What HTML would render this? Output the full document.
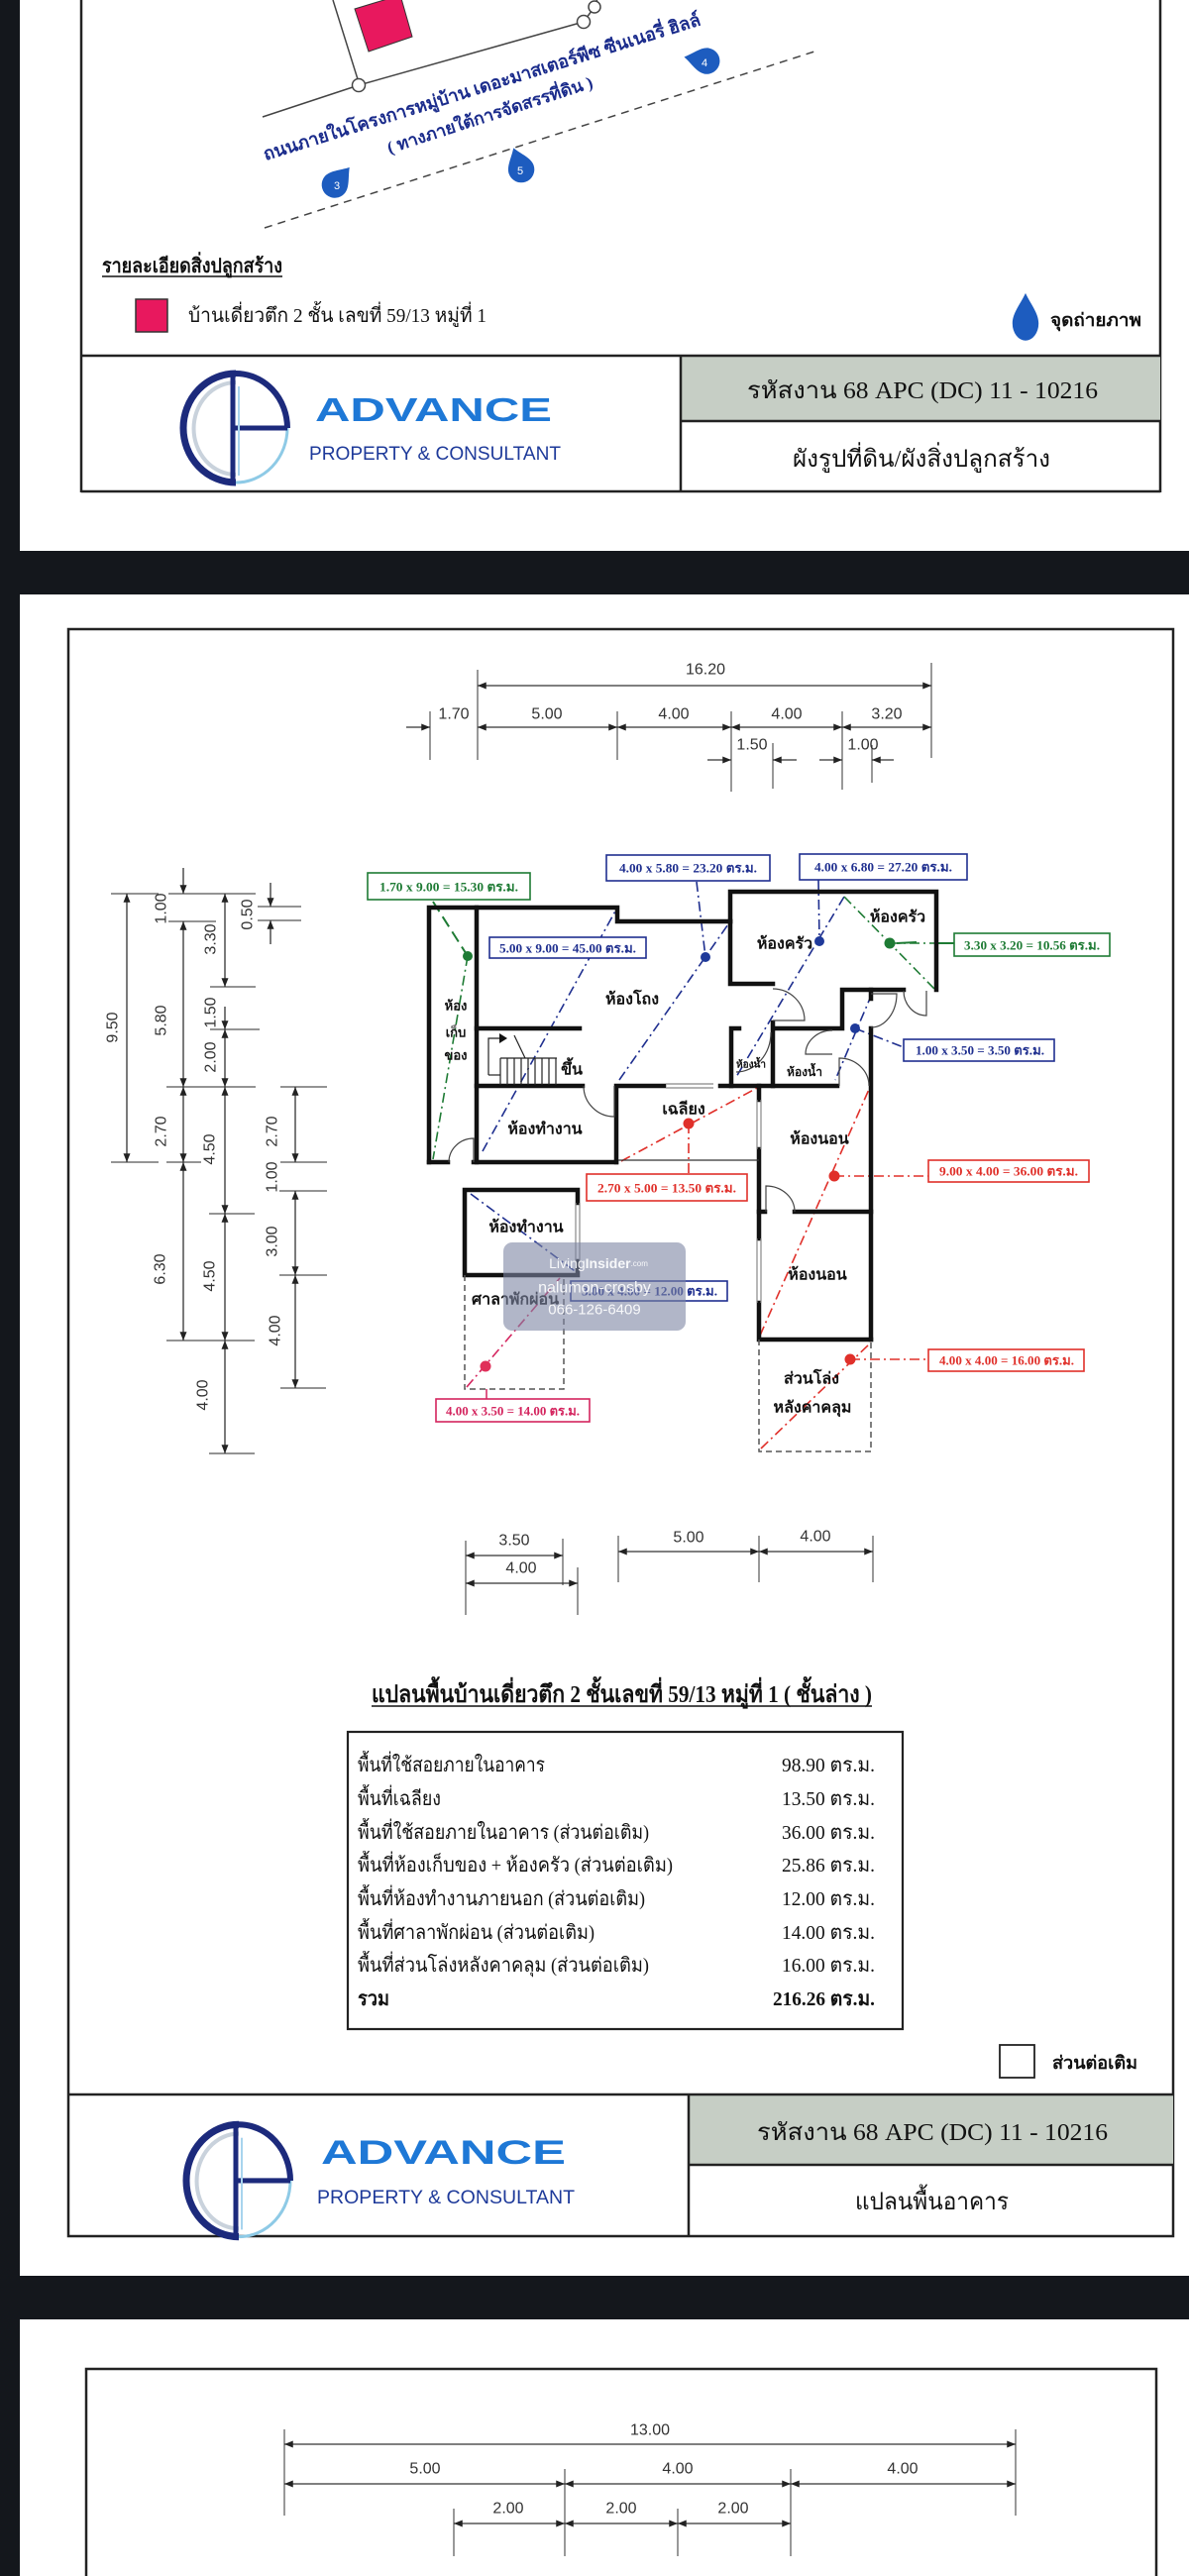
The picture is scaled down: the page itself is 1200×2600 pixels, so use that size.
<!DOCTYPE html>
<html><head><meta charset="utf-8"><style>
html,body{margin:0;padding:0;background:#14171c;}
body{width:1200px;height:2600px;overflow:hidden;}
svg{display:block;}
.th{font-family:"Liberation Serif","DejaVu Serif","Noto Serif CJK SC",serif;}
.dm{font-family:"Liberation Sans","DejaVu Sans",sans-serif;font-size:16px;fill:#333;}
.lb{font-family:"Liberation Serif","DejaVu Serif",serif;font-size:13px;font-weight:bold;}
.rm{font-family:"Liberation Serif","DejaVu Serif",serif;font-size:16px;font-weight:bold;fill:#111;}
</style></head><body>
<svg width="1200" height="2600" viewBox="0 0 1200 2600" xmlns="http://www.w3.org/2000/svg">
<defs>
<marker id="ar" viewBox="0 0 10 8" refX="10" refY="4" markerWidth="10" markerHeight="7" markerUnits="userSpaceOnUse" orient="auto-start-reverse"><path d="M0,0L10,4L0,8z" fill="#222"/></marker>
<g id="logo">
<path d="M238,377 A53,55 0 0 0 238,487" fill="none" stroke="#1c2a7c" stroke-width="7"/>
<path d="M238,386 A42,46 0 0 0 238,479" fill="none" stroke="#c9d2dc" stroke-width="4"/>
<path d="M238,377 A52,55 0 0 1 290,432" fill="none" stroke="#1c2a7c" stroke-width="6"/>
<path d="M290,432 A52,55 0 0 1 238,487" fill="none" stroke="#8ecae6" stroke-width="3"/>
<line x1="235" y1="378" x2="235" y2="487" stroke="#1c2a7c" stroke-width="5"/>
<line x1="235" y1="432" x2="290" y2="432" stroke="#1c2a7c" stroke-width="5"/>
<line x1="241" y1="390" x2="241" y2="480" stroke="#a8d4ee" stroke-width="2"/>
</g>
<g id="drop"><path d="M0,-18 C5,-10 12,-4 12,3 A12,12 0 1 1 -12,3 C-12,-4 -5,-10 0,-18z" fill="#1d5cbf"/></g>
</defs>

<!-- pages -->
<rect x="20" y="0" width="1180" height="556" fill="#fff"/>
<rect x="20" y="600" width="1180" height="1697" fill="#fff"/>
<rect x="20" y="2341" width="1180" height="259" fill="#fff"/>

<!-- ================= PAGE 1 ================= -->
<line x1="82" y1="0" x2="82" y2="497" stroke="#222" stroke-width="2.5"/>
<line x1="1171" y1="0" x2="1171" y2="497" stroke="#222" stroke-width="2.5"/>
<rect x="687" y="359" width="484" height="66" fill="#c6cec5"/>
<line x1="82" y1="359" x2="1171" y2="359" stroke="#222" stroke-width="2.5"/>
<line x1="687" y1="425" x2="1171" y2="425" stroke="#222" stroke-width="2.5"/>
<line x1="687" y1="359" x2="687" y2="496" stroke="#222" stroke-width="2.5"/>
<line x1="82" y1="496" x2="1171" y2="496" stroke="#222" stroke-width="2.5"/>

<!-- site drawing -->
<polygon points="372,52 416,37 404,-5 358,9" fill="#e8185e" stroke="#333" stroke-width="1"/>
<line x1="336" y1="0" x2="361" y2="80" stroke="#444" stroke-width="1.5"/>
<polyline points="265,118 362,86 589,22" fill="none" stroke="#444" stroke-width="1.5"/>
<line x1="589" y1="22" x2="600" y2="7" stroke="#444" stroke-width="1.5"/>
<line x1="600" y1="7" x2="604" y2="-4" stroke="#444" stroke-width="1.5"/>
<circle cx="362" cy="86" r="6.5" fill="#fff" stroke="#444" stroke-width="1.5"/>
<circle cx="589" cy="22" r="6.5" fill="#fff" stroke="#444" stroke-width="1.5"/>
<circle cx="600" cy="7" r="6" fill="#fff" stroke="#444" stroke-width="1.5"/>
<line x1="267" y1="230" x2="822" y2="52" stroke="#444" stroke-width="1.5" stroke-dasharray="8 6"/>
<text class="th" x="268" y="162" transform="rotate(-17.3 268 162)" font-size="18" font-weight="bold" fill="#1b2c8c" textLength="461" lengthAdjust="spacingAndGlyphs">ถนนภายในโครงการหมู่บ้าน เดอะมาสเตอร์พีซ ซีนเนอรี่ ฮิลล์</text>
<text class="th" x="393" y="155" transform="rotate(-18 393 155)" font-size="17" font-weight="bold" fill="#1b2c8c" textLength="217" lengthAdjust="spacingAndGlyphs">( ทางภายใต้การจัดสรรที่ดิน )</text>
<g transform="translate(340,184) rotate(40) scale(1.1)"><use href="#drop"/></g><text x="340" y="191" font-family="Liberation Sans" font-size="11" fill="#fff" text-anchor="middle">3</text>
<g transform="translate(525,168) rotate(-20) scale(1.1)"><use href="#drop"/></g><text x="525" y="176" font-family="Liberation Sans" font-size="11" fill="#fff" text-anchor="middle">5</text>
<g transform="translate(710,61) rotate(-80) scale(1.1)"><use href="#drop"/></g><text x="711" y="67" font-family="Liberation Sans" font-size="11" fill="#fff" text-anchor="middle">4</text>

<!-- legend -->
<text class="th" x="103" y="275" font-size="20" font-weight="bold" fill="#111" textLength="182" lengthAdjust="spacingAndGlyphs">รายละเอียดสิ่งปลูกสร้าง</text>
<line x1="103" y1="279" x2="285" y2="279" stroke="#111" stroke-width="1.5"/>
<rect x="137" y="302" width="32" height="33" fill="#e8185e" stroke="#333" stroke-width="1.5"/>
<text class="th" x="190" y="325" font-size="20" fill="#111" textLength="301" lengthAdjust="spacingAndGlyphs">บ้านเดี่ยวตึก 2 ชั้น เลขที่ 59/13 หมู่ที่ 1</text>
<g transform="translate(1035,322) scale(1.1,1.45)"><use href="#drop"/></g>
<text class="th" x="1060" y="329" font-size="18" font-weight="bold" fill="#111" textLength="92" lengthAdjust="spacingAndGlyphs">จุดถ่ายภาพ</text>

<!-- title block 1 -->
<use href="#logo"/>
<text x="318" y="425" font-family="Liberation Sans" font-weight="bold" font-size="33" fill="#1e78d6" textLength="239" lengthAdjust="spacingAndGlyphs">ADVANCE</text>
<text x="312" y="464" font-family="Liberation Sans" font-size="19" fill="#1e3a9a" textLength="254" lengthAdjust="spacingAndGlyphs">PROPERTY &amp; CONSULTANT</text>
<text class="th" x="754" y="402" font-size="24" fill="#111" textLength="354" lengthAdjust="spacingAndGlyphs">รหัสงาน   68 APC (DC) 11 - 10216</text>
<text class="th" x="800" y="471" font-size="24" fill="#111" textLength="260" lengthAdjust="spacingAndGlyphs">ผังรูปที่ดิน/ผังสิ่งปลูกสร้าง</text>

<!-- ================= PAGE 2 ================= -->
<rect x="69" y="635" width="1115" height="1622" fill="none" stroke="#222" stroke-width="2.5"/>

<!-- top dims -->
<g stroke="#555" stroke-width="1.2">
<line x1="482" y1="676" x2="482" y2="767"/>
<line x1="940" y1="669" x2="940" y2="765"/>
<line x1="434" y1="718" x2="434" y2="767"/>
<line x1="623" y1="718" x2="623" y2="767"/>
<line x1="738" y1="718" x2="738" y2="799"/>
<line x1="850" y1="718" x2="850" y2="797"/>
<line x1="780" y1="750" x2="780" y2="796"/>
<line x1="880" y1="752" x2="880" y2="790"/>
</g>
<g stroke="#333" stroke-width="1.3">
<line x1="482" y1="692" x2="940" y2="692" marker-start="url(#ar)" marker-end="url(#ar)"/>
<line x1="482" y1="734" x2="623" y2="734" marker-start="url(#ar)" marker-end="url(#ar)"/>
<line x1="623" y1="734" x2="738" y2="734" marker-start="url(#ar)" marker-end="url(#ar)"/>
<line x1="738" y1="734" x2="850" y2="734" marker-start="url(#ar)" marker-end="url(#ar)"/>
<line x1="850" y1="734" x2="940" y2="734" marker-start="url(#ar)" marker-end="url(#ar)"/>
<line x1="410" y1="734" x2="434" y2="734" marker-end="url(#ar)"/>
<line x1="714" y1="767" x2="738" y2="767" marker-end="url(#ar)"/>
<line x1="804" y1="767" x2="780" y2="767" marker-end="url(#ar)"/>
<line x1="827" y1="767" x2="850" y2="767" marker-end="url(#ar)"/>
<line x1="902" y1="767" x2="880" y2="767" marker-end="url(#ar)"/>
</g>
<g class="dm" text-anchor="middle" dominant-baseline="central">
<text x="712" y="676">16.20</text>
<text x="458" y="721">1.70</text>
<text x="552" y="721">5.00</text>
<text x="680" y="721">4.00</text>
<text x="794" y="721">4.00</text>
<text x="895" y="721">3.20</text>
<text x="759" y="752">1.50</text>
<text x="871" y="752">1.00</text>
</g>

<!-- left dims -->
<g stroke="#555" stroke-width="1.2">
<line x1="112" y1="902" x2="160" y2="902"/><line x1="170" y1="902" x2="258" y2="902"/>
<line x1="170" y1="930" x2="218" y2="930"/>
<line x1="212" y1="996" x2="258" y2="996"/>
<line x1="212" y1="1039" x2="262" y2="1039"/>
<line x1="168" y1="1097" x2="258" y2="1097"/><line x1="283" y1="1097" x2="330" y2="1097"/>
<line x1="112" y1="1173" x2="160" y2="1173"/><line x1="168" y1="1173" x2="203" y2="1173"/><line x1="283" y1="1173" x2="330" y2="1173"/>
<line x1="282" y1="1202" x2="330" y2="1202"/>
<line x1="211" y1="1225" x2="257" y2="1225"/>
<line x1="282" y1="1287" x2="330" y2="1287"/>
<line x1="168" y1="1353" x2="257" y2="1353"/>
<line x1="283" y1="1401" x2="329" y2="1401"/>
<line x1="211" y1="1467" x2="257" y2="1467"/>
<line x1="260" y1="915" x2="304" y2="915"/><line x1="260" y1="929" x2="304" y2="929"/>
</g>
<g stroke="#333" stroke-width="1.3">
<line x1="128" y1="902" x2="128" y2="1173" marker-start="url(#ar)" marker-end="url(#ar)"/>
<line x1="185" y1="876" x2="185" y2="902" marker-end="url(#ar)"/>
<line x1="185" y1="930" x2="185" y2="1097" marker-start="url(#ar)" marker-end="url(#ar)"/>
<line x1="185" y1="1097" x2="185" y2="1173" marker-start="url(#ar)" marker-end="url(#ar)"/>
<line x1="185" y1="1173" x2="185" y2="1353" marker-start="url(#ar)" marker-end="url(#ar)"/>
<line x1="227" y1="902" x2="227" y2="996" marker-start="url(#ar)" marker-end="url(#ar)"/>
<line x1="227" y1="1016" x2="227" y2="1039" marker-end="url(#ar)"/>
<line x1="227" y1="1039" x2="227" y2="1097" marker-start="url(#ar)" marker-end="url(#ar)"/>
<line x1="227" y1="1097" x2="227" y2="1225" marker-start="url(#ar)" marker-end="url(#ar)"/>
<line x1="227" y1="1225" x2="227" y2="1353" marker-start="url(#ar)" marker-end="url(#ar)"/>
<line x1="227" y1="1353" x2="227" y2="1467" marker-start="url(#ar)" marker-end="url(#ar)"/>
<line x1="273" y1="891" x2="273" y2="915" marker-end="url(#ar)"/>
<line x1="273" y1="953" x2="273" y2="929" marker-end="url(#ar)"/>
<line x1="298" y1="1097" x2="298" y2="1173" marker-start="url(#ar)" marker-end="url(#ar)"/>
<line x1="298" y1="1202" x2="298" y2="1287" marker-start="url(#ar)" marker-end="url(#ar)"/>
<line x1="298" y1="1287" x2="298" y2="1401" marker-start="url(#ar)" marker-end="url(#ar)"/>
</g>
<g class="dm" text-anchor="middle" dominant-baseline="central">
<text transform="translate(114,1037) rotate(-90)">9.50</text>
<text transform="translate(163,917) rotate(-90)">1.00</text>
<text transform="translate(163,1030) rotate(-90)">5.80</text>
<text transform="translate(163,1142) rotate(-90)">2.70</text>
<text transform="translate(162,1281) rotate(-90)">6.30</text>
<text transform="translate(213,948) rotate(-90)">3.30</text>
<text transform="translate(213,1022) rotate(-90)">1.50</text>
<text transform="translate(213,1067) rotate(-90)">2.00</text>
<text transform="translate(212,1160) rotate(-90)">4.50</text>
<text transform="translate(212,1288) rotate(-90)">4.50</text>
<text transform="translate(205,1408) rotate(-90)">4.00</text>
<text transform="translate(250,923) rotate(-90)">0.50</text>
<text transform="translate(275,1142) rotate(-90)">2.70</text>
<text transform="translate(275,1188) rotate(-90)">1.00</text>
<text transform="translate(275,1253) rotate(-90)">3.00</text>
<text transform="translate(278,1343) rotate(-90)">4.00</text>
</g>

<!-- plan colored dash lines (under walls) -->
<g fill="none" stroke-width="1.6" stroke-dasharray="10 4 2 4">
<line x1="472" y1="965" x2="437" y2="1170" stroke="#1e7b34"/>
<line x1="487" y1="1162" x2="623" y2="916" stroke="#1f2f8f"/>
<line x1="625" y1="1090" x2="737" y2="930" stroke="#1f2f8f"/>
<line x1="703" y1="890" x2="712" y2="966" stroke="#1f2f8f"/>
<line x1="852" y1="905" x2="743" y2="1087" stroke="#1f2f8f"/>
<line x1="826" y1="888" x2="827" y2="950" stroke="#1f2f8f"/>
<line x1="852" y1="905" x2="943" y2="998" stroke="#1e7b34"/>
<line x1="898" y1="952" x2="963" y2="952" stroke="#1e7b34"/>
<line x1="880" y1="1003" x2="843" y2="1090" stroke="#1f2f8f"/>
<line x1="863" y1="1038" x2="912" y2="1057" stroke="#1f2f8f"/>
<line x1="627" y1="1172" x2="766" y2="1097" stroke="#e0302a"/>
<line x1="695" y1="1134" x2="695" y2="1185" stroke="#e0302a"/>
<line x1="767" y1="1348" x2="879" y2="1095" stroke="#e0302a"/>
<line x1="842" y1="1187" x2="937" y2="1187" stroke="#e0302a"/>
<line x1="768" y1="1462" x2="879" y2="1355" stroke="#e0302a"/>
<line x1="858" y1="1372" x2="937" y2="1372" stroke="#e0302a"/>
<line x1="471" y1="1400" x2="565" y2="1290" stroke="#d4245e"/>
<line x1="475" y1="1205" x2="583" y2="1285" stroke="#1f2f8f"/>
</g>
<line x1="437" y1="910" x2="472" y2="965" stroke="#1e7b34" stroke-width="2" stroke-dasharray="12 6"/>
<line x1="491" y1="1402" x2="491" y2="1412" stroke="#d4245e" stroke-width="1.5"/>
<line x1="905" y1="952" x2="925" y2="951" stroke="#1e7b34" stroke-width="2"/>
<line x1="945" y1="952" x2="963" y2="952" stroke="#1e7b34" stroke-width="2"/>

<!-- walls -->
<g fill="none" stroke="#111" stroke-width="4.5" stroke-linecap="square">
<path d="M433,1173 L433,916 L623,916 L623,930 L737,930"/>
<path d="M481,916 L481,1173"/>
<path d="M433,1173 L452,1173 M478,1173 L622,1173"/>
<path d="M481,1038 L585,1038"/>
<path d="M481,1096 L588,1096"/>
<path d="M622,1096 L622,1173 M622,1096 L670,1096 M727,1096 L845,1096"/>
<path d="M737,930 L737,900 L945,900 L945,999"/>
<path d="M737,930 L737,993 L780,993"/>
<path d="M850,999 L912,999 M850,999 L850,1038 L780,1038 M780,1032 L780,1096 M738,1038 L738,1096 M738,1038 L746,1038"/>
<path d="M879,999 L879,1008 M879,1038 L879,1352"/>
<path d="M766,1096 L766,1110 M766,1160 L766,1250 M766,1315 L766,1352 L879,1352"/>
<path d="M766,1223 L772,1223 M802,1223 L879,1223"/>
<path d="M583,1214 L583,1201 L469,1201 L469,1287 L583,1287 L583,1273"/>
</g>
<g fill="none" stroke="#888" stroke-width="1.2">
<path d="M672,1094 L720,1094 M672,1098 L720,1098"/>
<path d="M764,1110 L764,1160 M768,1110 L768,1160 M764,1250 L764,1315 M768,1250 L768,1315"/>
<path d="M581,1214 L581,1273 M585,1214 L585,1273"/>
</g>
<line x1="624" y1="1171" x2="766" y2="1171" stroke="#333" stroke-width="1.3"/>
<g fill="none" stroke="#555" stroke-width="1.5" stroke-dasharray="6 4">
<path d="M469,1287 L469,1402 L569,1402 L569,1287"/>
<path d="M766,1352 L766,1465 L879,1465 L879,1352"/>
</g>
<!-- doors -->
<g fill="none" stroke="#444" stroke-width="1.2">
<path d="M478,1173 L478,1149 A25,24 0 0 0 453,1173"/>
<path d="M589,1096 A31,31 0 0 0 620,1127 L620,1096"/>
<path d="M780,998 A32,32 0 0 1 812,1030 L780,1030"/>
<path d="M912,1000 A23,25 0 0 0 935,1025 L935,1000"/>
<path d="M879,1003 L905,1003 A26,34 0 0 1 879,1037"/>
<path d="M840,1040 A27,24 0 0 0 813,1064 L840,1064"/>
<path d="M847,1096 L847,1068 A30,28 0 0 1 877,1096"/>
<path d="M778,1042 A35,40 0 0 1 743,1082"/>
<path d="M773,1223 L773,1197 A29,26 0 0 1 802,1223"/>
</g>
<!-- stairs -->
<g fill="none" stroke="#222" stroke-width="1.2">
<path d="M493,1085 L493,1048 L505,1048"/>
<path d="M505,1068 L562,1068"/>
<path d="M505,1068 L505,1095 M512,1068 L512,1095 M519,1068 L519,1095 M526,1068 L526,1095 M533,1068 L533,1095 M540,1068 L540,1095 M547,1068 L547,1095 M554,1068 L554,1095 M561,1068 L561,1095"/>
<path d="M493,1085 L505,1085"/>
<path d="M519,1045 L530,1068"/>
</g>
<path d="M504,1043 L512,1048 L504,1053z" fill="#111"/>

<!-- dots -->
<circle cx="472" cy="965" r="5" fill="#1e7b34"/>
<circle cx="712" cy="966" r="5" fill="#1f3a9a"/>
<circle cx="827" cy="950" r="5" fill="#1f3a9a"/>
<circle cx="898" cy="952" r="5.5" fill="#1e7b34"/>
<circle cx="863" cy="1038" r="5" fill="#1f3a9a"/>
<circle cx="695" cy="1134" r="5.5" fill="#e0302a"/>
<circle cx="842" cy="1187" r="5.5" fill="#e0302a"/>
<circle cx="858" cy="1372" r="5.5" fill="#e0302a"/>
<circle cx="490" cy="1379" r="5.5" fill="#e0305a"/>

<!-- labels -->
<g fill="#fff" stroke-width="1.6">
<rect x="371" y="881" width="164" height="27" stroke="#1e7b34"/>
<rect x="494" y="946" width="158" height="21" stroke="#1f2f8f"/>
<rect x="612" y="863" width="165" height="26" stroke="#1f2f8f"/>
<rect x="807" y="862" width="169" height="26" stroke="#1f2f8f"/>
<rect x="963" y="942" width="157" height="23" stroke="#1e7b34"/>
<rect x="912" y="1049" width="152" height="22" stroke="#1f2f8f"/>
<rect x="937" y="1171" width="162" height="22" stroke="#e0302a"/>
<rect x="592" y="1185" width="162" height="27" stroke="#e0302a"/>
<rect x="576" y="1293" width="158" height="20" stroke="#1f2f8f"/>
<rect x="440" y="1412" width="155" height="23" stroke="#d4245e"/>
<rect x="937" y="1362" width="157" height="22" stroke="#e0302a"/>
</g>
<g class="lb" dominant-baseline="central">
<text x="383" y="895" fill="#1e7b34" textLength="140" lengthAdjust="spacingAndGlyphs">1.70 x 9.00 = 15.30 ตร.ม.</text>
<text x="504" y="957" fill="#1f2f8f" textLength="138" lengthAdjust="spacingAndGlyphs">5.00 x 9.00 = 45.00 ตร.ม.</text>
<text x="625" y="876" fill="#1f2f8f" textLength="139" lengthAdjust="spacingAndGlyphs">4.00 x 5.80 = 23.20 ตร.ม.</text>
<text x="822" y="875" fill="#1f2f8f" textLength="139" lengthAdjust="spacingAndGlyphs">4.00 x 6.80 = 27.20 ตร.ม.</text>
<text x="973" y="954" fill="#1e7b34" textLength="137" lengthAdjust="spacingAndGlyphs">3.30 x 3.20 = 10.56 ตร.ม.</text>
<text x="924" y="1060" fill="#1f2f8f" textLength="130" lengthAdjust="spacingAndGlyphs">1.00 x 3.50 = 3.50 ตร.ม.</text>
<text x="948" y="1182" fill="#e0302a" textLength="140" lengthAdjust="spacingAndGlyphs">9.00 x 4.00 = 36.00 ตร.ม.</text>
<text x="603" y="1199" fill="#e0302a" textLength="140" lengthAdjust="spacingAndGlyphs">2.70 x 5.00 = 13.50 ตร.ม.</text>
<text x="587" y="1303" fill="#1f2f8f" textLength="137" lengthAdjust="spacingAndGlyphs">3.00 x 4.00 = 12.00 ตร.ม.</text>
<text x="450" y="1424" fill="#d4245e" textLength="135" lengthAdjust="spacingAndGlyphs">4.00 x 3.50 = 14.00 ตร.ม.</text>
<text x="948" y="1373" fill="#e0302a" textLength="136" lengthAdjust="spacingAndGlyphs">4.00 x 4.00 = 16.00 ตร.ม.</text>
</g>

<!-- room names -->
<g class="rm" text-anchor="middle" dominant-baseline="central">
<text x="460" y="1015" font-size="13">ห้อง</text>
<text x="460" y="1042" font-size="13">เก็บ</text>
<text x="460" y="1065" font-size="13">ของ</text>
<text x="638" y="1009">ห้องโถง</text>
<text x="792" y="953">ห้องครัว</text>
<text x="906" y="926">ห้องครัว</text>
<text x="758" y="1075" font-size="10">ห้องน้ำ</text>
<text x="812" y="1082" font-size="12">ห้องน้ำ</text>
<text x="577" y="1080">ขึ้น</text>
<text x="550" y="1140">ห้องทำงาน</text>
<text x="690" y="1120">เฉลียง</text>
<text x="827" y="1150">ห้องนอน</text>
<text x="825" y="1287">ห้องนอน</text>
<text x="531" y="1239">ห้องทำงาน</text>
<text x="520" y="1312">ศาลาพักผ่อน</text>
<text x="819" y="1392">ส่วนโล่ง</text>
<text x="820" y="1421">หลังคาคลุม</text>
</g>

<!-- watermark -->
<rect x="508" y="1254" width="184" height="89" rx="9" fill="#7d86a3" fill-opacity="0.6"/>
<g font-family="Liberation Sans,DejaVu Sans,sans-serif" fill="#fff" text-anchor="middle" dominant-baseline="central" fill-opacity="0.9">
<text x="604" y="1275" font-size="14">Living<tspan font-weight="bold">Insider</tspan><tspan font-size="8">.com</tspan></text>
<text x="600" y="1300" font-size="16">nalumon-crosby</text>
<text x="600" y="1322" font-size="15">066-126-6409</text>
</g>

<!-- bottom dims -->
<g stroke="#555" stroke-width="1.2">
<line x1="470" y1="1555" x2="470" y2="1630"/>
<line x1="568" y1="1553" x2="568" y2="1600"/>
<line x1="583" y1="1582" x2="583" y2="1630"/>
<line x1="624" y1="1550" x2="624" y2="1597"/>
<line x1="766" y1="1550" x2="766" y2="1597"/>
<line x1="881" y1="1550" x2="881" y2="1597"/>
</g>
<g stroke="#333" stroke-width="1.3">
<line x1="470" y1="1570" x2="568" y2="1570" marker-start="url(#ar)" marker-end="url(#ar)"/>
<line x1="470" y1="1598" x2="583" y2="1598" marker-start="url(#ar)" marker-end="url(#ar)"/>
<line x1="624" y1="1566" x2="766" y2="1566" marker-start="url(#ar)" marker-end="url(#ar)"/>
<line x1="766" y1="1566" x2="881" y2="1566" marker-start="url(#ar)" marker-end="url(#ar)"/>
</g>
<g class="dm" text-anchor="middle" dominant-baseline="central">
<text x="519" y="1555">3.50</text>
<text x="526" y="1583">4.00</text>
<text x="695" y="1552">5.00</text>
<text x="823" y="1551">4.00</text>
</g>

<!-- table -->
<text class="th" x="375" y="1718" font-size="24" font-weight="bold" fill="#111" textLength="505" lengthAdjust="spacingAndGlyphs">แปลนพื้นบ้านเดี่ยวตึก 2 ชั้นเลขที่  59/13  หมู่ที่ 1 ( ชั้นล่าง )</text>
<line x1="375" y1="1722" x2="880" y2="1722" stroke="#111" stroke-width="1.6"/>
<rect x="351" y="1748" width="560" height="300" fill="none" stroke="#222" stroke-width="2.2"/>
<g class="th" font-size="20" fill="#111" dominant-baseline="central">
<text x="361" y="1782" textLength="189" lengthAdjust="spacingAndGlyphs">พื้นที่ใช้สอยภายในอาคาร</text>
<text x="361" y="1816" textLength="84" lengthAdjust="spacingAndGlyphs">พื้นที่เฉลียง</text>
<text x="361" y="1850" textLength="294" lengthAdjust="spacingAndGlyphs">พื้นที่ใช้สอยภายในอาคาร (ส่วนต่อเติม)</text>
<text x="361" y="1883" textLength="318" lengthAdjust="spacingAndGlyphs">พื้นที่ห้องเก็บของ + ห้องครัว (ส่วนต่อเติม)</text>
<text x="361" y="1917" textLength="290" lengthAdjust="spacingAndGlyphs">พื้นที่ห้องทำงานภายนอก (ส่วนต่อเติม)</text>
<text x="361" y="1951" textLength="239" lengthAdjust="spacingAndGlyphs">พื้นที่ศาลาพักผ่อน (ส่วนต่อเติม)</text>
<text x="361" y="1984" textLength="294" lengthAdjust="spacingAndGlyphs">พื้นที่ส่วนโล่งหลังคาคลุม (ส่วนต่อเติม)</text>
<text x="361" y="2018" font-weight="bold" textLength="32" lengthAdjust="spacingAndGlyphs">รวม</text>
<text x="789" y="1782" textLength="94" lengthAdjust="spacingAndGlyphs">98.90 ตร.ม.</text>
<text x="789" y="1816" textLength="94" lengthAdjust="spacingAndGlyphs">13.50 ตร.ม.</text>
<text x="789" y="1850" textLength="94" lengthAdjust="spacingAndGlyphs">36.00 ตร.ม.</text>
<text x="789" y="1883" textLength="94" lengthAdjust="spacingAndGlyphs">25.86 ตร.ม.</text>
<text x="789" y="1917" textLength="94" lengthAdjust="spacingAndGlyphs">12.00 ตร.ม.</text>
<text x="789" y="1951" textLength="94" lengthAdjust="spacingAndGlyphs">14.00 ตร.ม.</text>
<text x="789" y="1984" textLength="94" lengthAdjust="spacingAndGlyphs">16.00 ตร.ม.</text>
<text x="780" y="2018" font-weight="bold" textLength="103" lengthAdjust="spacingAndGlyphs">216.26 ตร.ม.</text>
</g>

<rect x="1009" y="2064" width="35" height="33" fill="#fff" stroke="#222" stroke-width="1.8"/>
<text class="th" x="1062" y="2088" font-size="18" font-weight="bold" fill="#111" textLength="86" lengthAdjust="spacingAndGlyphs">ส่วนต่อเติม</text>

<!-- title block 2 -->
<rect x="695" y="2114" width="489" height="71" fill="#c6cec5"/>
<line x1="69" y1="2114" x2="1184" y2="2114" stroke="#222" stroke-width="2.5"/>
<line x1="695" y1="2185" x2="1184" y2="2185" stroke="#222" stroke-width="2.5"/>
<line x1="695" y1="2114" x2="695" y2="2257" stroke="#222" stroke-width="2.5"/>
<use href="#logo" transform="translate(3,1756) scale(1,1.03)"/>
<text x="324" y="2184" font-family="Liberation Sans" font-weight="bold" font-size="34" fill="#1e78d6" textLength="247" lengthAdjust="spacingAndGlyphs">ADVANCE</text>
<text x="320" y="2224" font-family="Liberation Sans" font-size="19" fill="#1e3a9a" textLength="260" lengthAdjust="spacingAndGlyphs">PROPERTY &amp; CONSULTANT</text>
<text class="th" x="764" y="2160" font-size="24" fill="#111" textLength="354" lengthAdjust="spacingAndGlyphs">รหัสงาน   68 APC (DC) 11 - 10216</text>
<text class="th" x="863" y="2230" font-size="24" fill="#111" textLength="155" lengthAdjust="spacingAndGlyphs">แปลนพื้นอาคาร</text>

<!-- ================= PAGE 3 ================= -->
<path d="M87,2600 L87,2391 L1167,2391 L1167,2600" fill="none" stroke="#222" stroke-width="2.5"/>
<g stroke="#555" stroke-width="1.2">
<line x1="287" y1="2452" x2="287" y2="2539"/>
<line x1="1025" y1="2452" x2="1025" y2="2539"/>
<line x1="570" y1="2492" x2="570" y2="2580"/>
<line x1="798" y1="2492" x2="798" y2="2580"/>
<line x1="458" y1="2532" x2="458" y2="2580"/>
<line x1="684" y1="2532" x2="684" y2="2580"/>
</g>
<g stroke="#333" stroke-width="1.3">
<line x1="287" y1="2467" x2="1025" y2="2467" marker-start="url(#ar)" marker-end="url(#ar)"/>
<line x1="287" y1="2507" x2="570" y2="2507" marker-start="url(#ar)" marker-end="url(#ar)"/>
<line x1="570" y1="2507" x2="798" y2="2507" marker-start="url(#ar)" marker-end="url(#ar)"/>
<line x1="798" y1="2507" x2="1025" y2="2507" marker-start="url(#ar)" marker-end="url(#ar)"/>
<line x1="458" y1="2547" x2="570" y2="2547" marker-start="url(#ar)" marker-end="url(#ar)"/>
<line x1="570" y1="2547" x2="684" y2="2547" marker-start="url(#ar)" marker-end="url(#ar)"/>
<line x1="684" y1="2547" x2="798" y2="2547" marker-start="url(#ar)" marker-end="url(#ar)"/>
</g>
<g class="dm" text-anchor="middle" dominant-baseline="central">
<text x="656" y="2453">13.00</text>
<text x="429" y="2492">5.00</text>
<text x="684" y="2492">4.00</text>
<text x="911" y="2492">4.00</text>
<text x="513" y="2532">2.00</text>
<text x="627" y="2532">2.00</text>
<text x="740" y="2532">2.00</text>
</g>
</svg>
</body></html>
